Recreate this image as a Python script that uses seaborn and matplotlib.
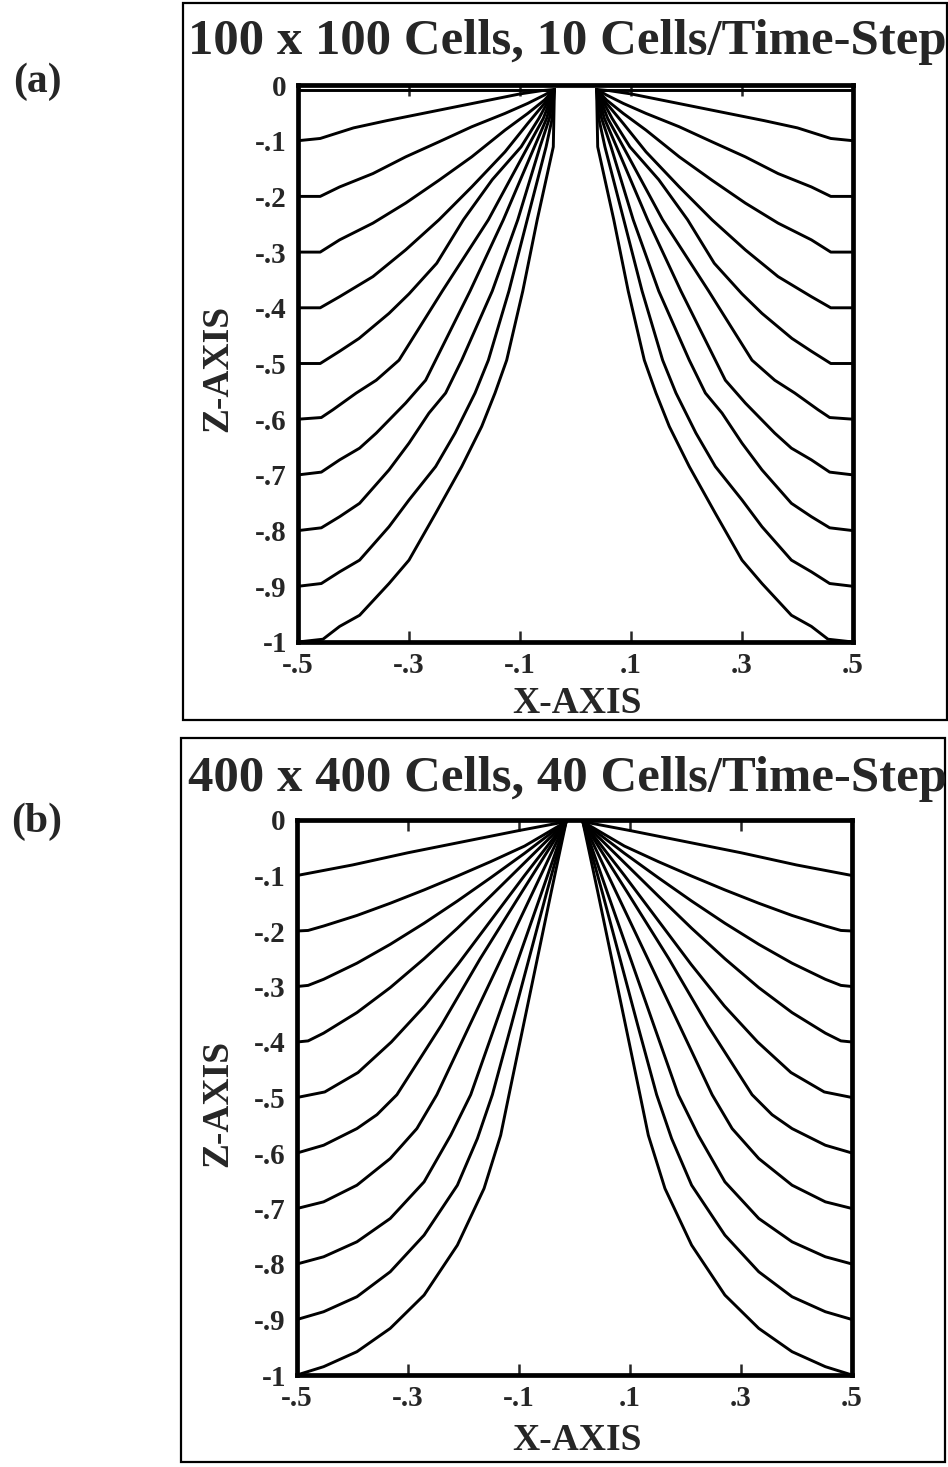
import pandas as pd
import seaborn as sns
import matplotlib
matplotlib.use("Agg")
import matplotlib.pyplot as plt
from matplotlib.patches import Rectangle

# =========================
# DATA (left half of each panel; right half is the mirror image)
# =========================
a_title = "100 x 100 Cells, 10 Cells/Time-Step"
b_title = "400 x 400 Cells, 40 Cells/Time-Step"

x_ticks = [-0.5, -0.3, -0.1, 0.1, 0.3, 0.5]
x_tick_labels = ["-.5", "-.3", "-.1", ".1", ".3", ".5"]
z_ticks = [0, -0.1, -0.2, -0.3, -0.4, -0.5, -0.6, -0.7, -0.8, -0.9, -1.0]
z_tick_labels = ["0", "-.1", "-.2", "-.3", "-.4", "-.5", "-.6", "-.7", "-.8", "-.9", "-1"]

# panel (a): 100 x 100 cells
a_c0_x = [-0.5, -0.038]
a_c0_z = [-0.009, -0.009]
a_c1_x = [-0.5, -0.46, -0.40, -0.34, -0.28, -0.22, -0.16, -0.10, -0.06, -0.038]
a_c1_z = [-0.100, -0.096, -0.077, -0.064, -0.052, -0.040, -0.028, -0.016, -0.010, -0.008]
a_c2_x = [-0.5, -0.46, -0.425, -0.365, -0.306, -0.246, -0.187, -0.127, -0.086, -0.056, -0.038]
a_c2_z = [-0.2, -0.2, -0.183, -0.159, -0.129, -0.102, -0.075, -0.051, -0.033, -0.018, -0.008]
a_c3_x = [-0.5, -0.46, -0.425, -0.365, -0.306, -0.246, -0.187, -0.127, -0.086, -0.056, -0.038]
a_c3_z = [-0.3, -0.3, -0.278, -0.248, -0.212, -0.171, -0.129, -0.081, -0.051, -0.027, -0.008]
a_c4_x = [-0.5, -0.46, -0.425, -0.365, -0.306, -0.246, -0.187, -0.127, -0.086, -0.056, -0.038]
a_c4_z = [-0.4, -0.4, -0.380, -0.344, -0.296, -0.242, -0.183, -0.120, -0.069, -0.033, -0.008]
a_c5_x = [-0.5, -0.46, -0.425, -0.39, -0.336, -0.30, -0.25, -0.202, -0.15, -0.098, -0.066, -0.038]
a_c5_z = [-0.5, -0.5, -0.478, -0.455, -0.41, -0.375, -0.32, -0.242, -0.17, -0.111, -0.06, -0.008]
a_c6_x = [-0.5, -0.458, -0.437, -0.395, -0.359, -0.318, -0.24, -0.157, -0.086, -0.058, -0.038]
a_c6_z = [-0.6, -0.597, -0.583, -0.553, -0.530, -0.494, -0.37, -0.242, -0.111, -0.06, -0.008]
a_c7_x = [-0.5, -0.458, -0.425, -0.389, -0.359, -0.306, -0.27, -0.252, -0.19, -0.130, -0.074, -0.052, -0.038]
a_c7_z = [-0.7, -0.695, -0.673, -0.652, -0.625, -0.571, -0.530, -0.494, -0.37, -0.242, -0.111, -0.06, -0.008]
a_c8_x = [-0.5, -0.458, -0.425, -0.389, -0.336, -0.300, -0.264, -0.234, -0.205, -0.15, -0.104, -0.064, -0.047, -0.038]
a_c8_z = [-0.8, -0.795, -0.775, -0.751, -0.691, -0.643, -0.589, -0.553, -0.494, -0.37, -0.242, -0.111, -0.06, -0.008]
a_c9_x = [-0.5, -0.458, -0.425, -0.389, -0.336, -0.300, -0.252, -0.217, -0.181, -0.157, -0.12, -0.087, -0.053, -0.042, -0.038]
a_c9_z = [-0.9, -0.895, -0.874, -0.853, -0.793, -0.745, -0.685, -0.625, -0.553, -0.494, -0.37, -0.242, -0.111, -0.06, -0.008]
a_c10_x = [-0.5, -0.455, -0.425, -0.389, -0.336, -0.300, -0.252, -0.205, -0.169, -0.145, -0.124, -0.095, -0.069, -0.040, -0.038]
a_c10_z = [-1.0, -0.995, -0.972, -0.952, -0.895, -0.853, -0.769, -0.685, -0.613, -0.553, -0.494, -0.37, -0.242, -0.111, -0.008]

# panel (b): 400 x 400 cells
b_c1_x = [-0.5, -0.4, -0.3, -0.2, -0.1, -0.015]
b_c1_z = [-0.1, -0.081, -0.059, -0.039, -0.019, -0.003]
b_c2_x = [-0.5, -0.48, -0.452, -0.392, -0.332, -0.271, -0.211, -0.151, -0.090, -0.015]
b_c2_z = [-0.2, -0.199, -0.191, -0.172, -0.150, -0.126, -0.101, -0.075, -0.047, -0.003]
b_c3_x = [-0.5, -0.48, -0.452, -0.392, -0.332, -0.271, -0.211, -0.151, -0.090, -0.015]
b_c3_z = [-0.3, -0.298, -0.287, -0.258, -0.224, -0.186, -0.146, -0.104, -0.060, -0.003]
b_c4_x = [-0.5, -0.48, -0.452, -0.392, -0.332, -0.271, -0.211, -0.151, -0.090, -0.015]
b_c4_z = [-0.4, -0.398, -0.384, -0.347, -0.302, -0.250, -0.195, -0.137, -0.077, -0.003]
b_c5_x = [-0.5, -0.45, -0.39, -0.33, -0.27, -0.21, -0.15, -0.09, -0.015]
b_c5_z = [-0.5, -0.49, -0.455, -0.40, -0.335, -0.26, -0.18, -0.10, -0.003]
b_c6_x = [-0.5, -0.452, -0.392, -0.356, -0.320, -0.24, -0.17, -0.095, -0.015]
b_c6_z = [-0.6, -0.586, -0.556, -0.531, -0.495, -0.37, -0.25, -0.13, -0.003]
b_c7_x = [-0.5, -0.452, -0.392, -0.332, -0.284, -0.248, -0.189, -0.132, -0.075, -0.015]
b_c7_z = [-0.7, -0.688, -0.658, -0.610, -0.556, -0.495, -0.37, -0.25, -0.13, -0.003]
b_c8_x = [-0.5, -0.452, -0.392, -0.332, -0.271, -0.223, -0.187, -0.143, -0.101, -0.059, -0.015]
b_c8_z = [-0.8, -0.787, -0.760, -0.718, -0.652, -0.568, -0.495, -0.37, -0.25, -0.13, -0.003]
b_c9_x = [-0.5, -0.452, -0.392, -0.332, -0.271, -0.211, -0.175, -0.148, -0.114, -0.082, -0.050, -0.015]
b_c9_z = [-0.9, -0.886, -0.859, -0.814, -0.748, -0.658, -0.574, -0.495, -0.37, -0.25, -0.13, -0.003]
b_c10_x = [-0.5, -0.452, -0.392, -0.332, -0.271, -0.211, -0.163, -0.133, -0.118, -0.092, -0.067, -0.042, -0.015]
b_c10_z = [-1.0, -0.985, -0.958, -0.916, -0.856, -0.766, -0.664, -0.568, -0.495, -0.37, -0.25, -0.13, -0.003]

a_curves = [(a_c0_x, a_c0_z), (a_c1_x, a_c1_z), (a_c2_x, a_c2_z), (a_c3_x, a_c3_z),
            (a_c4_x, a_c4_z), (a_c5_x, a_c5_z), (a_c6_x, a_c6_z), (a_c7_x, a_c7_z),
            (a_c8_x, a_c8_z), (a_c9_x, a_c9_z), (a_c10_x, a_c10_z)]
b_curves = [(b_c1_x, b_c1_z), (b_c2_x, b_c2_z), (b_c3_x, b_c3_z), (b_c4_x, b_c4_z),
            (b_c5_x, b_c5_z), (b_c6_x, b_c6_z), (b_c7_x, b_c7_z), (b_c8_x, b_c8_z),
            (b_c9_x, b_c9_z), (b_c10_x, b_c10_z)]


def to_frame(curves):
    rows = []
    for i, (xs, zs) in enumerate(curves):
        for x, z in zip(xs, zs):
            rows.append({"x": x, "z": z, "curve": f"L{i}"})
        for x, z in zip(xs, zs):
            rows.append({"x": -x, "z": z, "curve": f"R{i}"})
    return pd.DataFrame(rows)


df_a = to_frame(a_curves)
df_b = to_frame(b_curves)

# =========================
# STYLE
# =========================
sns.set_theme(style="white")
plt.rcParams["font.family"] = ["Liberation Serif", "DejaVu Serif"]
plt.rcParams["font.weight"] = "bold"

W, H = 948, 1467
fig = plt.figure(figsize=(W / 100, H / 100), dpi=100)


def fx(px):
    return px / W


def fy(py):
    return 1 - py / H


def draw_panel(df, ax_box, frame_box, title, title_y, tag, tag_y, zlab_y, xlab_y):
    l, t, r, b = ax_box
    ax = fig.add_axes([fx(l), fy(b), fx(r - l), (b - t) / H])
    sns.lineplot(data=df, x="x", y="z", units="curve", estimator=None, sort=False,
                 color="black", linewidth=2.1, ax=ax, legend=False)
    ax.set_xlim(-0.5, 0.5)
    ax.set_ylim(-1.0, 0.0)
    ax.set_xticks(x_ticks)
    ax.set_xticklabels(x_tick_labels, fontsize=21, fontweight="bold")
    ax.set_yticks(z_ticks)
    ax.set_yticklabels(z_tick_labels, fontsize=21, fontweight="bold")
    ax.tick_params(axis="x", direction="in", length=8, width=1.8, top=True, bottom=True, pad=7)
    ax.tick_params(axis="y", direction="in", length=0, pad=8)
    ax.set_xlabel("")
    ax.set_ylabel("")
    for s in ax.spines.values():
        s.set_linewidth(3.4)
        s.set_color("black")

    fl, ft, fr, fb = frame_box
    fig.add_artist(Rectangle((fx(fl), fy(fb)), fx(fr - fl), (fb - ft) / H,
                             transform=fig.transFigure, fill=False, lw=1.6, color="black"))
    fig.text(fx(567), fy(title_y), title, ha="center", va="center",
             fontsize=36.5, fontweight="bold")
    fig.text(fx(37), fy(tag_y), tag, ha="center", va="center",
             fontsize=30, fontweight="bold")
    fig.text(fx(218), fy(zlab_y), "Z-AXIS", ha="center", va="center", rotation=90,
             fontsize=27, fontweight="bold")
    fig.text(fx(577), fy(xlab_y), "X-AXIS", ha="center", va="center",
             fontsize=27, fontweight="bold")


draw_panel(df_a, (298, 85, 853, 642), (183, 3, 947, 720), a_title, 42, "(a)", 82, 368, 704)
draw_panel(df_b, (297, 820, 852, 1375), (181, 738, 945, 1462), b_title, 779, "(b)", 822, 1103, 1440)

fig.savefig("out.png", dpi=100)
